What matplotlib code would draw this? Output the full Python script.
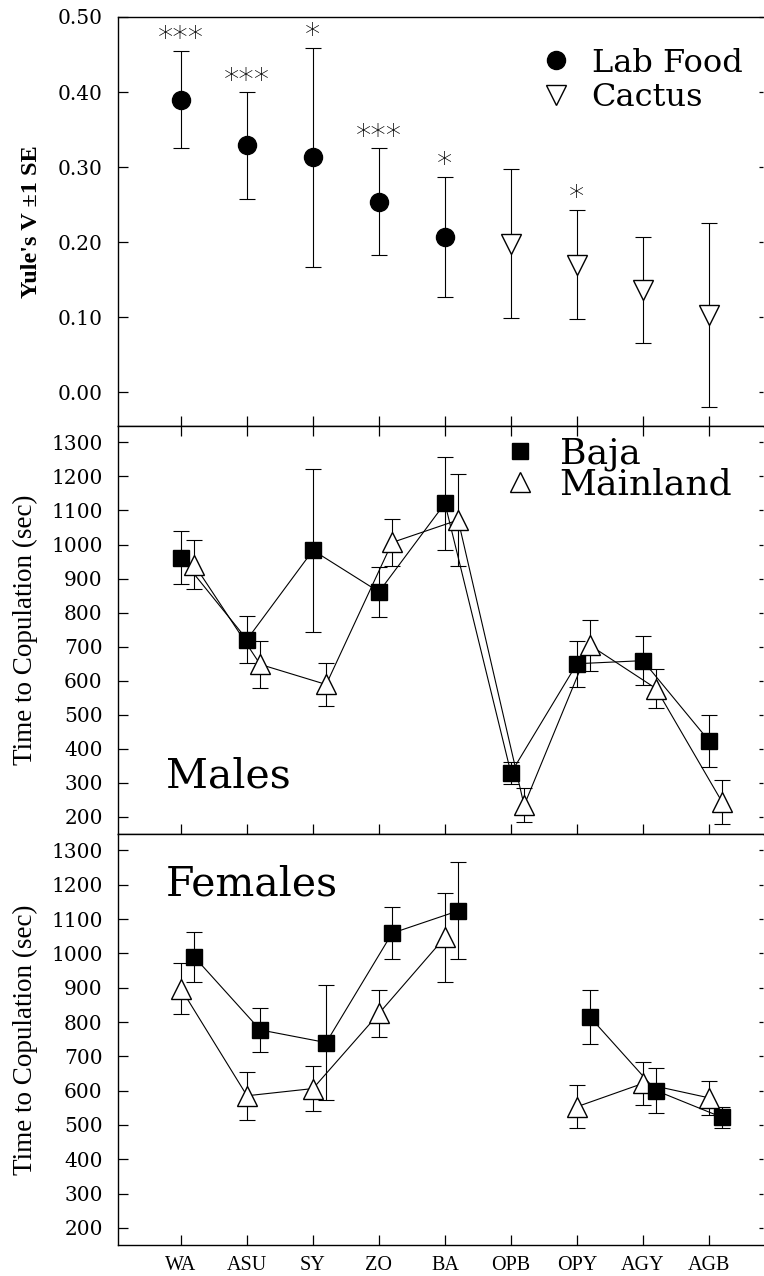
import numpy as np
import matplotlib
matplotlib.use("Agg")
import matplotlib.pyplot as plt
from matplotlib.lines import Line2D

nan = np.nan

populations = ["WA", "ASU", "SY", "ZO", "BA", "OPB", "OPY", "AGY", "AGB"]

# Yule's V (+-1 SE); first five populations on lab food, last four on cactus
yule_v = [0.390, 0.329, 0.313, 0.254, 0.207, 0.198, 0.170, 0.136, 0.103]
yule_se = [0.065, 0.071, 0.146, 0.071, 0.080, 0.099, 0.073, 0.071, 0.123]
diet = ["Lab Food"] * 5 + ["Cactus"] * 4
stars = ["***", "***", "*", "***", "*", "", "*", "", ""]

# time to copulation (sec), mean and SE
males_baja = [961, 721, 983, 861, 1121, 329, 650, 659, 424]
males_baja_se = [78, 68, 239, 73, 136, 33, 67, 71, 76]
males_main = [941, 648, 589, 1006, 1072, 234, 704, 577, 244]
males_main_se = [71, 68, 62, 68, 136, 50, 74, 58, 66]

females_baja = [990, 777, 740, 1059, 1124, nan, 814, 600, 522]
females_baja_se = [73, 63, 167, 75, 141, nan, 79, 65, 31]
females_main = [897, 585, 606, 825, 1047, nan, 553, 621, 579]
females_main_se = [75, 70, 65, 68, 130, nan, 62, 62, 50]

plt.rcParams.update({
    "font.family": "DejaVu Serif",
    "font.size": 14,
    "axes.linewidth": 1.0,
})

FIG_W, FIG_H = 7.64, 12.76
LEFT = 118 / 764
WIDTH = 645 / 764
XLIM = (0.045, 9.82)
TIME_YLIM = (150, 1348)
xpos = np.arange(1, len(populations) + 1)


def style_axes(ax, show_labels=False, top_ticks=False):
    ax.set_xlim(*XLIM)
    ax.set_xticks(xpos)
    if show_labels:
        ax.set_xticklabels(populations, fontsize=15, family="Liberation Serif")
    else:
        ax.set_xticklabels([])
    ax.spines["right"].set_visible(False)
    ax.tick_params(axis="both", direction="in", length=7, width=0.9,
                   labelsize=14.5, pad=11)
    ax.tick_params(axis="x", pad=8, top=top_ticks)
    ax.tick_params(axis="y", right=True)
    for t in ax.yaxis.get_major_ticks():
        t.tick2line.set_markersize(3)


def draw_series(ax, x, y, se, marker, face, ms):
    ax.errorbar(x, y, yerr=se, fmt="none", ecolor="black", elinewidth=0.8,
                capsize=6, capthick=0.8, zorder=2)
    ax.plot(x, y, "-", color="black", lw=0.8, zorder=2)
    ax.plot(x, y, marker, ls="none", ms=ms, mfc=face, mec="black",
            mew=1.0, zorder=4)


fig = plt.figure(figsize=(FIG_W, FIG_H), dpi=100)

# --- top panel: Yule's V
ax1 = fig.add_axes([LEFT, 1 - 426 / 1276, WIDTH, 409 / 1276])
yv = np.array(yule_v)
yse = np.array(yule_se)
lab = np.array([d == "Lab Food" for d in diet])
ax1.errorbar(xpos, yv, yerr=yse, fmt="none", ecolor="black", elinewidth=0.8,
             capsize=6, capthick=0.8, zorder=2)
ax1.plot(xpos[lab], yv[lab], "o", ms=13, mfc="black", mec="black", ls="none",
         zorder=4)
ax1.plot(xpos[~lab], yv[~lab], "v", ms=14, mfc="white", mec="black", mew=1.0,
         ls="none", zorder=4)
for x, top, s in zip(xpos, yv + yse, stars):
    if s:
        ax1.annotate(s, xy=(x, top), xytext=(0, 2.5), textcoords="offset points",
                     ha="center", va="baseline", fontsize=22,
                     family="DejaVu Sans", fontweight="light")
ax1.set_ylim(-0.045, 0.50)
ax1.set_yticks(np.arange(0, 0.51, 0.1))
ax1.set_yticklabels([f"{v:.2f}" for v in np.arange(0, 0.51, 0.1)])
style_axes(ax1)
ax1.set_ylabel("Yule's V ±1 SE", fontsize=17.5, fontweight="bold",
               family="Liberation Serif")
ax1.yaxis.set_label_coords(-0.118, 0.5)
h1 = [Line2D([], [], marker="o", ls="none", ms=13, mfc="black", mec="black"),
      Line2D([], [], marker="v", ls="none", ms=14, mfc="white", mec="black")]
ax1.legend(h1, ["Lab Food", "Cactus"], loc="upper left",
           bbox_to_anchor=(0.655, 0.925), frameon=False, fontsize=23,
           handlelength=1.0, handletextpad=0.6, labelspacing=0.1,
           borderpad=0, borderaxespad=0)

# --- middle panel: males
ax2 = fig.add_axes([LEFT, 1 - 834 / 1276, WIDTH, 408 / 1276])
draw_series(ax2, xpos, males_baja, males_baja_se, "s", "black", 12)
draw_series(ax2, xpos + 0.2, males_main, males_main_se, "^", "white", 14)
ax2.set_ylim(*TIME_YLIM)
ax2.set_yticks(np.arange(200, 1301, 100))
style_axes(ax2, top_ticks=True)
ax2.set_ylabel("Time to Copulation (sec)", fontsize=19.5,
               family="Liberation Serif")
ax2.yaxis.set_label_coords(-0.124, 0.5)
ax2.text(0.074, 0.115, "Males", transform=ax2.transAxes, fontsize=29.5,
         va="baseline", ha="left")
h2 = [Line2D([], [], marker="s", ls="none", ms=12, mfc="black", mec="black"),
      Line2D([], [], marker="^", ls="none", ms=14, mfc="white", mec="black")]
ax2.legend(h2, ["Baja", "Mainland"], loc="upper left",
           bbox_to_anchor=(0.595, 0.975), frameon=False, fontsize=26,
           handlelength=1.0, handletextpad=0.6, labelspacing=-0.08,
           borderpad=0, borderaxespad=0)

# --- bottom panel: females
ax3 = fig.add_axes([LEFT, 1 - 1245 / 1276, WIDTH, 411 / 1276])
draw_series(ax3, xpos, females_main, females_main_se, "^", "white", 14)
draw_series(ax3, xpos + 0.2, females_baja, females_baja_se, "s", "black", 12)
ax3.set_ylim(*TIME_YLIM)
ax3.set_yticks(np.arange(200, 1301, 100))
style_axes(ax3, show_labels=True)
ax3.set_ylabel("Time to Copulation (sec)", fontsize=19.5,
               family="Liberation Serif")
ax3.yaxis.set_label_coords(-0.124, 0.5)
ax3.text(0.074, 0.85, "Females", transform=ax3.transAxes, fontsize=29.5,
         va="baseline", ha="left")

fig.savefig("out.png", dpi=100)
